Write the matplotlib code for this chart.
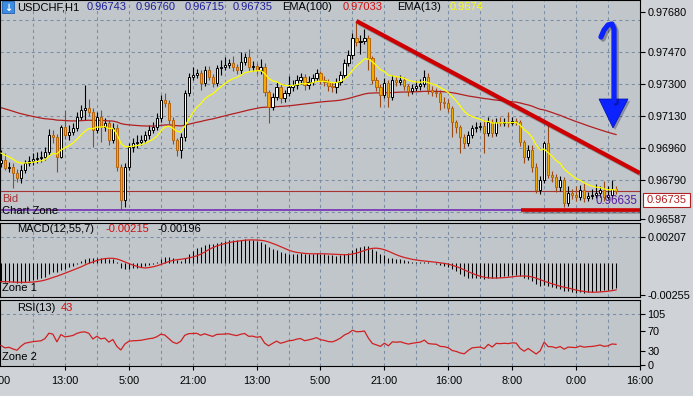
import numpy as np
import pandas as pd
import matplotlib
matplotlib.use("Agg")
import matplotlib.pyplot as plt
from matplotlib import patheffects as pe
from matplotlib.patches import Rectangle, Polygon

plt.rcParams['font.family'] = ['Liberation Sans', 'DejaVu Sans']

# ---------------- data ----------------
symbol = "USDCHF,H1"
header_ohlc = ["0.96743", "0.96760", "0.96715", "0.96735"]
ema100_txt = "0.97033"
ema13_txt = "0.9674"
macd_txt = "-0.00215"
signal_txt = "-0.00196"
rsi_txt = "43"

first_open = 0.96880
closes = [0.96898, 0.96855, 0.96861, 0.96829, 0.96802, 0.96845, 0.96882, 0.96892, 0.96903, 0.96908,
          0.96913, 0.96940, 0.97030, 0.97019, 0.96913, 0.97072, 0.97030, 0.97046, 0.97067, 0.97125,
          0.97162, 0.97173, 0.97152, 0.97056, 0.97125, 0.97072, 0.97093, 0.97003, 0.97067, 0.96861,
          0.96686, 0.96861, 0.96966, 0.96987, 0.96993, 0.97003, 0.97030, 0.97056, 0.97072, 0.97120,
          0.97215, 0.97199, 0.97109, 0.97003, 0.96951, 0.97019, 0.97252, 0.97337, 0.97347, 0.97358,
          0.97305, 0.97374, 0.97337, 0.97305, 0.97384, 0.97390, 0.97400, 0.97411, 0.97390, 0.97374,
          0.97416, 0.97442, 0.97390, 0.97395, 0.97374, 0.97390, 0.97257, 0.97178, 0.97231, 0.97284,
          0.97226, 0.97252, 0.97284, 0.97294, 0.97321, 0.97337, 0.97294, 0.97310, 0.97331, 0.97358,
          0.97321, 0.97310, 0.97289, 0.97284, 0.97310, 0.97347, 0.97411, 0.97453, 0.97543, 0.97522,
          0.97527, 0.97543, 0.97437, 0.97321, 0.97284, 0.97241, 0.97305, 0.97231, 0.97321, 0.97310,
          0.97321, 0.97289, 0.97263, 0.97279, 0.97289, 0.97300, 0.97337, 0.97268, 0.97257, 0.97252,
          0.97204, 0.97199, 0.97173, 0.97099, 0.97072, 0.97019, 0.96987, 0.97030, 0.97067, 0.97072,
          0.97077, 0.97040, 0.97099, 0.97040, 0.97099, 0.97093, 0.97099, 0.97093, 0.97104, 0.97099,
          0.96993, 0.96913, 0.96951, 0.96861, 0.96739, 0.96792, 0.96987, 0.96818, 0.96808, 0.96755,
          0.96792, 0.96670, 0.96723, 0.96712, 0.96702, 0.96739, 0.96697, 0.96707, 0.96712, 0.96723,
          0.96739, 0.96702, 0.96712, 0.96743, 0.96735]
highs = [0.96950, 0.96935, 0.96885, 0.96880, 0.96850, 0.96870, 0.96900, 0.96920, 0.96935, 0.96940,
         0.96945, 0.96965, 0.97060, 0.97056, 0.97035, 0.97083, 0.97162, 0.97080, 0.97095, 0.97150,
         0.97190, 0.97294, 0.97220, 0.97170, 0.97150, 0.97162, 0.97120, 0.97110, 0.97095, 0.97090,
         0.96875, 0.96880, 0.96990, 0.97015, 0.97030, 0.97030, 0.97050, 0.97080, 0.97100, 0.97145,
         0.97240, 0.97250, 0.97215, 0.97125, 0.97015, 0.97040, 0.97270, 0.97360, 0.97390, 0.97380,
         0.97375, 0.97395, 0.97395, 0.97350, 0.97400, 0.97427, 0.97440, 0.97430, 0.97450, 0.97405,
         0.97469, 0.97465, 0.97485, 0.97420, 0.97410, 0.97430, 0.97410, 0.97270, 0.97250, 0.97310,
         0.97300, 0.97270, 0.97340, 0.97320, 0.97345, 0.97360, 0.97355, 0.97340, 0.97350, 0.97380,
         0.97370, 0.97340, 0.97325, 0.97310, 0.97330, 0.97370, 0.97430, 0.97480, 0.97570, 0.97633,
         0.97560, 0.97590, 0.97560, 0.97450, 0.97335, 0.97300, 0.97330, 0.97320, 0.97345, 0.97340,
         0.97345, 0.97335, 0.97300, 0.97300, 0.97315, 0.97325, 0.97375, 0.97360, 0.97290, 0.97280,
         0.97270, 0.97230, 0.97220, 0.97185, 0.97110, 0.97085, 0.97035, 0.97050, 0.97085, 0.97100,
         0.97100, 0.97110, 0.97125, 0.97115, 0.97120, 0.97125, 0.97120, 0.97150, 0.97125, 0.97120,
         0.97110, 0.97005, 0.96975, 0.96975, 0.96880, 0.96815, 0.97000, 0.97093, 0.96840, 0.96825,
         0.96815, 0.96810, 0.96760, 0.96745, 0.96760, 0.96765, 0.96775, 0.96730, 0.96745, 0.96770,
         0.96760, 0.96785, 0.96760, 0.96790, 0.96760]
lows = [0.96860, 0.96845, 0.96835, 0.96749, 0.96780, 0.96776, 0.96830, 0.96865, 0.96870, 0.96880,
        0.96885, 0.96895, 0.96925, 0.96990, 0.96834, 0.96908, 0.97010, 0.97005, 0.97030, 0.97050,
        0.97110, 0.97109, 0.97130, 0.96966, 0.97040, 0.96993, 0.97050, 0.96977, 0.96990, 0.96840,
        0.96633, 0.96649, 0.96845, 0.96940, 0.96960, 0.96975, 0.96985, 0.97010, 0.97040, 0.97055,
        0.97100, 0.97180, 0.97090, 0.96980, 0.96920, 0.96908, 0.97000, 0.97235, 0.97320, 0.97330,
        0.97268, 0.97290, 0.97320, 0.97285, 0.97290, 0.97347, 0.97375, 0.97385, 0.97370, 0.97350,
        0.97355, 0.97400, 0.97370, 0.97370, 0.97350, 0.97355, 0.97235, 0.97093, 0.97160, 0.97215,
        0.97200, 0.97205, 0.97235, 0.97265, 0.97275, 0.97300, 0.97270, 0.97275, 0.97295, 0.97315,
        0.97300, 0.97290, 0.97265, 0.97255, 0.97250, 0.97295, 0.97330, 0.97395, 0.97430, 0.97500,
        0.97460, 0.97510, 0.97374, 0.97300, 0.97260, 0.97178, 0.97225, 0.97178, 0.97215, 0.97290,
        0.97295, 0.97270, 0.97235, 0.97245, 0.97260, 0.97270, 0.97285, 0.97245, 0.97235, 0.97230,
        0.97162, 0.97175, 0.97150, 0.97019, 0.97040, 0.96935, 0.96960, 0.96970, 0.97015, 0.97045,
        0.97055, 0.96935, 0.97025, 0.97020, 0.97025, 0.97075, 0.97075, 0.97070, 0.97080, 0.97080,
        0.96970, 0.96880, 0.96895, 0.96835, 0.96723, 0.96720, 0.96775, 0.96800, 0.96780, 0.96730,
        0.96735, 0.96650, 0.96655, 0.96690, 0.96680, 0.96685, 0.96675, 0.96680, 0.96690, 0.96695,
        0.96700, 0.96680, 0.96690, 0.96695, 0.96715]

ema100_start = 0.97180
ema13_start = 0.96940
ema12_start = 0.96930
ema55_start = 0.97080
rsi_gain_start = 0.00010
rsi_loss_start = 0.00017

time_labels = ["21:00", "13:00", "5:00", "21:00", "13:00", "5:00",
               "21:00", "16:00", "8:00", "0:00", "16:00"]
price_ticks = [0.97680, 0.97470, 0.97300, 0.97130, 0.96960, 0.96790, 0.96587]
price_grid = [0.97640, 0.97470, 0.97300, 0.97130, 0.96960, 0.96790, 0.96620]
macd_ticks = [0.00207, -0.00255]
rsi_ticks = [105, 70, 30, 0]
bid_price = 0.96735
zone_price = 0.96635
trend_pts = [(89, 0.97633), (160.0, 0.96828)]
support_from = 130.3

# ---------------- indicators ----------------
c = np.array(closes)
o = np.r_[first_open, c[:-1]]
h = np.array(highs)
l = np.array(lows)
n = len(c)
x = np.arange(n)


def ema(vals, period, seed):
    a = 2.0 / (period + 1)
    out = np.empty(len(vals))
    v = seed
    for i, xi in enumerate(vals):
        v = v + a * (xi - v)
        out[i] = v
    return out


ema100 = ema(c, 100, ema100_start)
ema13 = ema(c, 13, ema13_start)
macd = ema(c, 12, ema12_start) - ema(c, 55, ema55_start)
signal = pd.Series(macd).rolling(7, min_periods=1).mean().values

d = np.diff(np.r_[first_open, c])
ag, al = rsi_gain_start, rsi_loss_start
rsi = []
for gi, li in zip(np.clip(d, 0, None), np.clip(-d, 0, None)):
    ag = (ag * 12 + gi) / 13
    al = (al * 12 + li) / 13
    rsi.append(100 * ag / (ag + al))
rsi = np.array(rsi)

# ---------------- figure ----------------
W, H = 693, 396
OUTER = '#cfd3d7'
PANEL = '#c1c6cb'
GRID = '#7b8ea4'
fig = plt.figure(figsize=(W / 100, H / 100), dpi=100)
fig.patch.set_facecolor(OUTER)


def px_axes(x0, y0, x1, y1):
    return fig.add_axes([x0 / W, 1 - y1 / H, (x1 - x0) / W, (y1 - y0) / H])


ax = px_axes(0, 0, 640, 220)
axm = px_axes(0, 223, 640, 297)
axr = px_axes(0, 300, 640, 366)

for a in (ax, axm, axr):
    a.set_facecolor(PANEL)
    a.set_xlim(-0.25, 160.0)
    for s in a.spines.values():
        s.set_color('black')
        s.set_linewidth(0.8)
    a.yaxis.tick_right()
    a.tick_params(axis='y', direction='out', length=3.5, width=0.8, pad=2,
                  labelsize=7.8, colors='black')
    for gx in range(8, 160, 8):
        a.axvline(gx, color=GRID, lw=0.75, ls=(0, (3, 3)), zorder=0.6)

ax.set_ylim(0.96580, 0.97744)
axm.set_ylim(-0.00271, 0.00315)
axr.set_ylim(-1.8, 134)

ax.set_xticks([])
axm.set_xticks([])
ax.set_yticks(price_ticks)
ax.set_yticklabels([f"{v:.5f}" for v in price_ticks])
axm.set_yticks(macd_ticks)
axm.set_yticklabels([f"{v:.5f}" for v in macd_ticks])
axr.set_yticks(rsi_ticks)
axr.set_yticklabels([str(v) for v in rsi_ticks])

for gy in price_grid:
    ax.axhline(gy, color=GRID, lw=0.75, ls=(0, (3, 3)), zorder=0.6)
axm.axhline(macd_ticks[0], color=GRID, lw=0.75, ls=(0, (3, 3)), zorder=0.6)
axr.axhline(rsi_ticks[0], color=GRID, lw=0.75, ls=(0, (3, 3)), zorder=0.6)

axr.set_xticks(np.arange(16, 161, 16))
axr.set_xticklabels(time_labels[1:])
axr.tick_params(axis='x', direction='out', length=3, width=0.8, pad=4,
                labelsize=7.8, colors='black')

# ---- candles ----
bull = c >= o
wick_col = np.where(bull, 'black', '#9a4a14')
ax.vlines(x, l, h, colors=wick_col, lw=0.8, zorder=2)
body_lo = np.minimum(o, c)
body_h = np.maximum(np.abs(c - o), 0.000012)
ax.bar(x[bull], body_h[bull], bottom=body_lo[bull], width=0.55,
       color='white', edgecolor='black', lw=0.7, zorder=3)
ax.bar(x[~bull], body_h[~bull], bottom=body_lo[~bull], width=0.55,
       color='#f2aa00', edgecolor='#b8650c', lw=0.7, zorder=3)

ax.plot(x, ema100, color='#b21f1f', lw=0.9, zorder=2.5)
ax.plot(x, ema13, color='#ffff00', lw=0.9, zorder=4)

ax.axhline(bid_price, color='#a83232', lw=0.8, zorder=1.5)
ax.axhline(zone_price, color='#6a1fb0', lw=1.1, zorder=1.5)

shadow = [pe.SimpleLineShadow(offset=(1.5, -1.5), shadow_color='black', alpha=0.25),
          pe.Normal()]
ax.plot([p[0] for p in trend_pts], [p[1] for p in trend_pts], color='#cc0000',
        lw=3.0, solid_capstyle='butt', zorder=6, path_effects=shadow)
ax.plot([support_from, 160.0], [zone_price, zone_price], color='#cc0000',
        lw=2.6, solid_capstyle='butt', zorder=6, path_effects=shadow)

# ---- MACD ----
axm.vlines(x, 0, macd, colors='black', lw=0.75, zorder=2)
axm.plot(x, signal, color='#d02020', lw=0.9, zorder=3)

# ---- RSI ----
axr.plot(x, rsi, color='#d02020', lw=0.9, zorder=3)

# ---------------- overlay texts (pixel coords) ----------------
ov = fig.add_axes([0, 0, 1, 1], zorder=10)
ov.set_xlim(0, W)
ov.set_ylim(H, 0)
ov.axis('off')
fs = 8.0

ov.add_patch(Rectangle((2, 1), 12, 12, facecolor='#3c8ce0', edgecolor='#2060b0', lw=0.6))
ov.text(8, 7.5, "↓", color='white', fontsize=7, ha='center', va='center',
        family=['DejaVu Sans'], fontweight='bold')
ov.text(17, 7, symbol, fontsize=fs, color='black', va='center')
for xx, t in zip([87, 136, 185, 233], header_ohlc):
    ov.text(xx, 7, t, fontsize=fs, color='#1e1e96', va='center')
ov.text(282, 7, "EMA(100)", fontsize=fs, color='black', va='center')
ov.text(343, 7, ema100_txt, fontsize=fs, color='#d01010', va='center')
ov.text(397, 7, "EMA(13)", fontsize=fs, color='black', va='center')
ov.text(450, 7, ema13_txt, fontsize=fs, color='#ffff00', va='center')

ov.text(2, 199, "Bid", fontsize=fs, color='#a83232', va='center')
ov.text(2, 211, "Chart Zone", fontsize=fs, color='black', va='center')
ov.text(637, 201, "0.96635", fontsize=8.4, color='#5a1aa0', va='center', ha='right')

ov.text(17, 229, "MACD(12,55,7)", fontsize=fs, color='black', va='center')
ov.text(105, 229, macd_txt, fontsize=fs, color='#d01010', va='center')
ov.text(158, 229, signal_txt, fontsize=fs, color='black', va='center')
ov.text(2, 288, "Zone 1", fontsize=fs, color='black', va='center')

ov.text(17, 308, "RSI(13)", fontsize=fs, color='black', va='center')
ov.text(61, 308, rsi_txt, fontsize=fs, color='#d01010', va='center')
ov.text(2, 357, "Zone 2", fontsize=fs, color='black', va='center')

ov.text(11, 381, time_labels[0], fontsize=7.8, color='black', va='center', ha='right')

# bid price box
ov.add_patch(Rectangle((643, 193), 47, 14, facecolor='white', edgecolor='#b02020', lw=0.8))
ov.text(666.5, 200, header_ohlc[3], fontsize=fs, color='#b02020', ha='center', va='center')

# blue hand-drawn arrow
blue = '#0c22ff'
arrow_shadow = [pe.SimpleLineShadow(offset=(1.5, -1.5), shadow_color='black', alpha=0.3),
                pe.Normal()]
ov.plot([601, 604, 608, 612, 614, 614], [37, 30, 25, 24, 29, 101], color=blue,
        lw=3.8, solid_capstyle='round', solid_joinstyle='round', path_effects=arrow_shadow)
ov.add_patch(Polygon([(599, 99), (628, 99), (613, 128)], closed=True, facecolor=blue,
                     edgecolor='#0010b0', lw=0.5,
                     path_effects=[pe.SimplePatchShadow(offset=(1.5, -1.5), alpha=0.3),
                                   pe.Normal()]))

fig.savefig("out.png", dpi=100, facecolor=fig.get_facecolor())
